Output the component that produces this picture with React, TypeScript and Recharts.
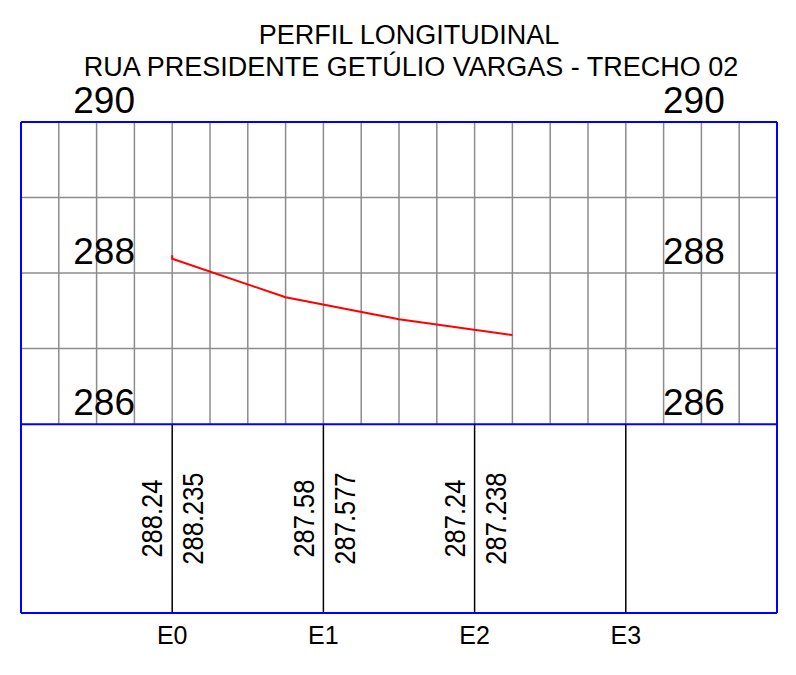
import { ComposedChart, Line, Scatter, XAxis, YAxis, ReferenceLine } from "recharts";

const TITLE = "PERFIL LONGITUDINAL";
const SUBTITLE = "RUA PRESIDENTE GETÚLIO VARGAS - TRECHO 02";

// profile (distance in m, elevation in m)
const profileDist = [0, 0, 15, 30, 45];
const profileElev = [288.235, 288.19, 287.68, 287.39, 287.18];

// stations
const stationNames = ["E0", "E1", "E2", "E3"];
const stationDist = [0, 20, 40, 60];
const terrainElev = [288.24, 287.58, 287.24, null];
const projectElev = [288.235, 287.577, 287.238, null];

const elevTicks = [286, 288, 290];
const gridX = [-15, -10, -5, 0, 5, 10, 15, 20, 25, 30, 35, 40, 45, 50, 55, 60, 65, 70, 75];
const gridY = [287, 288, 289];

const X_MIN = -20;
const X_MAX = 80;
const Y_MIN = 283.5;
const GRID_BOTTOM = 286;
const Y_MAX = 290;
const TEXT_ROW = 284.75;

const FONT = "'Liberation Sans', Arial, sans-serif";
const BLUE = "#0000ff";
const GRAY = "#8c8c8c";

const profileData = profileDist.map((d, i) => ({ dist: d, cota: profileElev[i] }));
const stationData = stationDist.map((d, i) => ({
  dist: d,
  row: TEXT_ROW,
  terreno: terrainElev[i],
  projeto: projectElev[i],
}));

const ElevLabel = (props: any) => {
  const { viewBox, text } = props;
  const y = viewBox ? viewBox.y : 0;
  return (
    <g fontFamily={FONT} fontSize={37} fill="#000">
      <text x={135} y={y - 9} textAnchor="end">{text}</text>
      <text x={663} y={y - 9} textAnchor="start">{text}</text>
    </g>
  );
};

const StationTick = (props: any) => {
  const { x, y, payload } = props;
  const idx = stationDist.indexOf(payload.value);
  return (
    <text x={x} y={y + 29} textAnchor="middle" fontFamily={FONT} fontSize={25} fill="#000">
      {stationNames[idx]}
    </text>
  );
};

const ValueText = ({ cx, cy, value, dx }: any) => (
  <text
    transform={`translate(${cx + dx}, ${cy}) rotate(-90) scale(0.85, 1)`}
    textAnchor="middle"
    dominantBaseline="central"
    fontFamily={FONT}
    fontSize={30}
    fill="#000"
  >
    {value}
  </text>
);

const StationLabels = (props: any) => {
  const { cx, cy, payload } = props;
  if (payload.terreno == null) return <g />;
  return (
    <g>
      <ValueText cx={cx} cy={cy} dx={-20} value={payload.terreno} />
      <ValueText cx={cx} cy={cy} dx={21} value={payload.projeto} />
    </g>
  );
};

export default function App() {
  return (
    <div style={{ position: "absolute", left: 0, top: 0, width: 796, height: 675, background: "#fff" }}>
      <svg width={796} height={90} style={{ position: "absolute", left: 0, top: 0 }}>
        <text x={409} y={44} textAnchor="middle" fontFamily={FONT} fontSize={27} fill="#000">{TITLE}</text>
        <text x={411} y={76} textAnchor="middle" fontFamily={FONT} fontSize={27} fill="#000">{SUBTITLE}</text>
      </svg>
      <div style={{ position: "absolute", left: 0, top: 0 }}>
        <ComposedChart
          width={796}
          height={675}
          data={profileData}
          margin={{ top: 122, right: 19, bottom: 32, left: 21 }}
        >
          <XAxis
            type="number"
            dataKey="dist"
            domain={[X_MIN, X_MAX]}
            ticks={stationDist}
            allowDataOverflow
            axisLine={false}
            tickLine={false}
            tickSize={0}
            height={30}
            tick={<StationTick />}
            interval={0}
          />
          <YAxis type="number" domain={[Y_MIN, Y_MAX]} allowDataOverflow hide />

          {gridY.map((v) => (
            <ReferenceLine key={`gy-${v}`} y={v} stroke={GRAY} strokeWidth={1.5} />
          ))}
          {gridX.map((v) => (
            <ReferenceLine
              key={`gx-${v}`}
              segment={[{ x: v, y: GRID_BOTTOM }, { x: v, y: Y_MAX }]}
              stroke={GRAY}
              strokeWidth={1.5}
            />
          ))}
          {stationDist.map((v) => (
            <ReferenceLine
              key={`st-${v}`}
              segment={[{ x: v, y: Y_MIN }, { x: v, y: GRID_BOTTOM }]}
              stroke="#000"
              strokeWidth={1.5}
            />
          ))}

          <ReferenceLine y={GRID_BOTTOM} stroke={BLUE} strokeWidth={2} />
          <ReferenceLine y={Y_MAX} stroke={BLUE} strokeWidth={2} />
          <ReferenceLine y={Y_MIN} stroke={BLUE} strokeWidth={2} />
          <ReferenceLine x={X_MIN} stroke={BLUE} strokeWidth={2} />
          <ReferenceLine x={X_MAX} stroke={BLUE} strokeWidth={2} />

          {elevTicks.map((v) => (
            <ReferenceLine
              key={`lbl-${v}`}
              y={v}
              stroke="none"
              label={<ElevLabel text={v} />}
            />
          ))}

          <Line
            type="linear"
            dataKey="cota"
            stroke="#ff0000"
            strokeWidth={2}
            dot={false}
            activeDot={false}
            isAnimationActive={false}
          />
          <Scatter
            data={stationData}
            dataKey="row"
            shape={<StationLabels />}
            isAnimationActive={false}
          />
        </ComposedChart>
      </div>
    </div>
  );
}
